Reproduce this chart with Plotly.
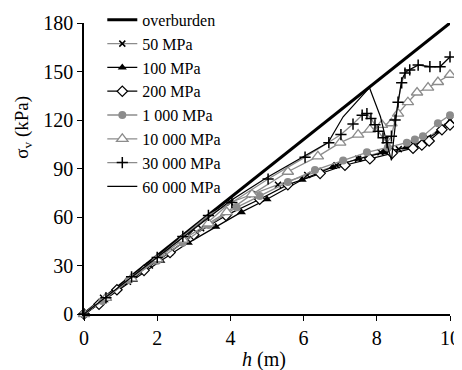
import plotly.graph_objects as go

# Overburden
ob_x = [0, 10]
ob_y = [0, 180]

# 50 MPa
x50 = [0, 0.52, 1.2, 1.8, 2.35, 3.2, 4.0, 4.6, 5.3, 6.1, 6.9, 7.49, 8.1, 8.6, 9.0, 9.4, 9.8, 10]
y50 = [0, 10, 20, 30, 38, 53, 69, 74, 80, 86, 92, 96, 100, 102, 105, 109, 116, 120]

# 100 MPa
x100 = [0, 0.55, 1.35, 2.1, 2.85, 3.6, 4.3, 5.0, 5.96, 6.8, 7.5, 8.2, 8.8, 9.3, 9.7, 10]
y100 = [0, 8.5, 21, 33, 44, 54, 63, 71, 83, 91, 96, 100, 103, 107, 113, 119]

# 200 MPa
x200 = [0, 0.41, 0.9, 1.64, 2.35, 3.0, 3.88, 4.8, 5.57, 6.45, 7.13, 7.81, 8.42, 8.99, 9.23, 9.43, 9.78, 10]
y200 = [0, 6, 15, 27, 38, 49, 61, 71, 80, 87, 92, 96, 99.5, 102.5, 104.5, 107, 114, 117]

# 1 000 MPa
x1000 = [0, 0.5, 1.23, 2.0, 2.7, 3.4, 4.17, 4.8, 5.57, 6.31, 7.08, 7.73, 8.3, 8.82, 9.04, 9.26, 9.67, 10]
y1000 = [0, 8, 21, 33, 44, 55, 66, 73, 81.6, 89, 95, 100, 103, 106, 108, 110, 118, 123]

# 10 000 MPa
x10k = [0, 0.6, 1.3, 2.0, 2.7, 3.4, 3.9, 4.59, 5.57, 6.39, 7.0, 7.49, 7.81, 8.14, 8.4, 8.58, 8.85, 9.1, 9.4, 9.67, 10]
y10k = [0, 10, 22, 34, 46, 56, 63, 74, 88, 97.5, 106, 111, 114, 117, 118, 124, 131, 137, 140, 143.5, 148]

# 30 000 MPa
x30k = [0, 0.6, 1.3, 2.0, 2.7, 3.4, 4.04, 5.03, 6.04, 6.69, 7.02, 7.35, 7.6, 7.73, 7.84, 7.95, 8.04, 8.17, 8.28, 8.4, 8.5, 8.58, 8.68, 8.77, 8.9, 9.13, 9.45, 9.73, 10]
y30k = [0, 10, 23, 35, 48, 61, 69, 83.5, 97, 106, 111, 117.5, 123, 124, 121, 117, 113, 109, 106, 110, 120, 131, 143, 149, 151, 154, 153, 153, 159]

# 60 000 MPa
x60k = [0, 1, 2, 3, 4, 5, 6, 6.67, 7.08, 7.49, 7.8, 7.95, 8.1, 8.27, 8.4, 8.55, 8.68, 8.8, 9.13, 9.45, 9.73, 10]
y60k = [0, 17.5, 35, 52, 70, 84.5, 97.5, 106, 122, 132, 140, 131, 122, 106, 95, 126, 145, 150, 154, 153, 153, 159]

xticks = [0, 2, 4, 6, 8, 10]
yticks = [0, 30, 60, 90, 120, 150, 180]

x_title = "<i>h</i> (m)"
y_title = "σ<sub>v</sub> (kPa)"

GRAY = "#8c8c8c"
FONT = "Liberation Serif"

fig = go.Figure()
fig.add_trace(go.Scatter(x=ob_x, y=ob_y, mode="lines", name="overburden",
                         line=dict(color="black", width=3)))
fig.add_trace(go.Scatter(x=x50, y=y50, mode="lines+markers", name="50 MPa",
                         line=dict(color=GRAY, width=1.3),
                         marker=dict(symbol="x-thin-open", size=6, color="black",
                                     line=dict(color="black", width=1.5))))
fig.add_trace(go.Scatter(x=x100, y=y100, mode="lines+markers", name="100 MPa",
                         line=dict(color="black", width=1.2),
                         marker=dict(symbol="triangle-up", size=8, color="black")))
fig.add_trace(go.Scatter(x=x200, y=y200, mode="lines+markers", name="200 MPa",
                         line=dict(color="black", width=1.2),
                         marker=dict(symbol="diamond", size=8, color="white",
                                     line=dict(color="black", width=1.2))))
fig.add_trace(go.Scatter(x=x1000, y=y1000, mode="lines+markers", name="1 000 MPa",
                         line=dict(color=GRAY, width=1.3),
                         marker=dict(symbol="circle", size=8, color=GRAY)))
fig.add_trace(go.Scatter(x=x10k, y=y10k, mode="lines+markers", name="10 000 MPa",
                         line=dict(color=GRAY, width=1.3),
                         marker=dict(symbol="triangle-up", size=10, color="white",
                                     line=dict(color=GRAY, width=1.3))))
fig.add_trace(go.Scatter(x=x30k, y=y30k, mode="lines+markers", name="30 000 MPa",
                         line=dict(color=GRAY, width=1.3),
                         marker=dict(symbol="cross-thin-open", size=8, color="black",
                                     line=dict(color="black", width=1.5))))
fig.add_trace(go.Scatter(x=x60k, y=y60k, mode="lines", name="60 000 MPa",
                         line=dict(color="black", width=1.2)))

for tr in fig.data:
    tr.cliponaxis = False

fig.update_layout(
    width=454, height=362,
    margin=dict(l=76, r=12, t=15, b=56, autoexpand=False),
    paper_bgcolor="white", plot_bgcolor="white",
    font=dict(family=FONT, size=16, color="black"),
    showlegend=True,
    legend=dict(x=0.05, y=1.069, xanchor="left", yanchor="top",
                bgcolor="rgba(255,255,255,0)", font=dict(family=FONT, size=16),
                tracegroupgap=0, itemwidth=30, maxheight=1),
    annotations=[
        dict(text=x_title, xref="paper", yref="paper", x=0.492, y=-0.158,
             xanchor="center", yanchor="middle", showarrow=False,
             font=dict(family=FONT, size=20)),
        dict(text=y_title, xref="paper", yref="paper", x=-0.167, y=0.643,
             xanchor="center", yanchor="middle", showarrow=False, textangle=-90,
             font=dict(family=FONT, size=19)),
    ],
)
fig.update_xaxes(range=[0, 10], tickvals=xticks, ticktext=[str(v) for v in xticks],
                 showgrid=False, zeroline=False, showline=True, linecolor="black", linewidth=1.5,
                 ticks="outside", ticklen=5, tickcolor="black", tickwidth=1.2,
                 tickfont=dict(family=FONT, size=20))
fig.update_yaxes(range=[0, 180], tickvals=yticks, ticktext=[str(v) for v in yticks],
                 showgrid=False, zeroline=False, showline=True, linecolor="black", linewidth=1.5,
                 ticks="outside", ticklen=5, tickcolor="black", tickwidth=1.2,
                 tickfont=dict(family=FONT, size=20))

fig.write_html("out.html")
